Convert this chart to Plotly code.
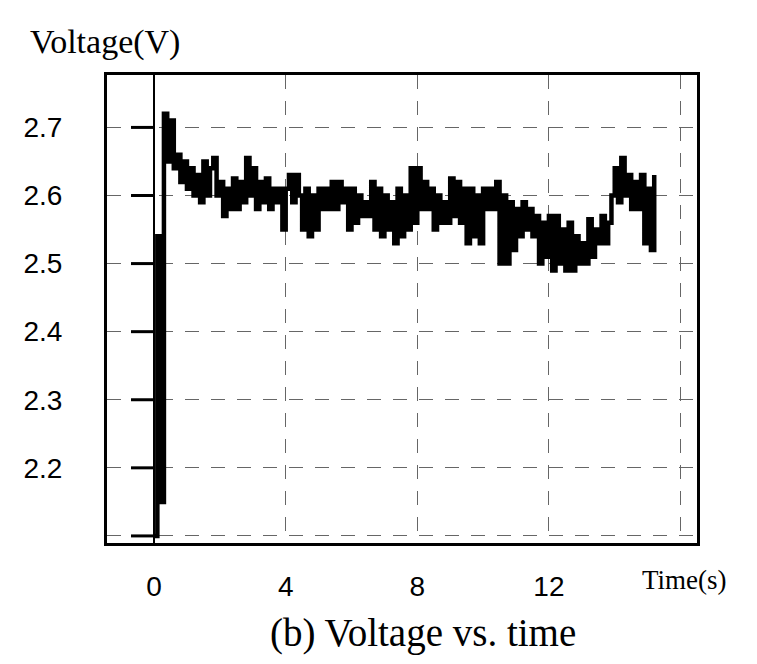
import plotly.graph_objects as go

# Sampled voltage trace (V), sample interval 0.1 s starting at t = 0
voltage = [
    2.10, 2.54, 2.15, 2.72, 2.65, 2.71, 2.64, 2.66, 2.62, 2.65,
    2.61, 2.64, 2.60, 2.63, 2.59, 2.65, 2.60, 2.64, 2.655, 2.60,
    2.62, 2.57, 2.61, 2.58, 2.625, 2.58, 2.62, 2.59, 2.655, 2.60,
    2.64, 2.58, 2.62, 2.59, 2.625, 2.58, 2.61, 2.59, 2.61, 2.55,
    2.61, 2.63, 2.59, 2.63, 2.60, 2.55, 2.61, 2.54, 2.60, 2.55,
    2.61, 2.58, 2.61, 2.58, 2.62, 2.58, 2.62, 2.59, 2.61, 2.55,
    2.61, 2.56, 2.60, 2.57, 2.59, 2.57, 2.62, 2.55, 2.61, 2.54,
    2.60, 2.55, 2.59, 2.53, 2.61, 2.54, 2.60, 2.55, 2.64, 2.56,
    2.64, 2.58, 2.62, 2.58, 2.61, 2.55, 2.60, 2.56, 2.59, 2.56,
    2.625, 2.57, 2.62, 2.56, 2.61, 2.53, 2.61, 2.54, 2.60, 2.53,
    2.61, 2.58, 2.61, 2.58, 2.62, 2.50, 2.60, 2.50, 2.59, 2.52,
    2.58, 2.54, 2.59, 2.55, 2.58, 2.54, 2.57, 2.50, 2.56, 2.51,
    2.57, 2.49, 2.57, 2.50, 2.55, 2.49, 2.56, 2.49, 2.54, 2.50,
    2.53, 2.50, 2.565, 2.51, 2.55, 2.53, 2.57, 2.53, 2.56, 2.60,
    2.64, 2.59, 2.655, 2.60, 2.63, 2.58, 2.62, 2.58, 2.63, 2.53,
    2.61, 2.52, 2.63,
]
sample_dt = 0.1
time_s = [round(i * sample_dt, 1) for i in range(len(voltage))]

x_tick_vals = [0, 4, 8, 12, 16]
x_tick_text = ["0", "4", "8", "12", ""]
y_tick_vals = [2.1, 2.2, 2.3, 2.4, 2.5, 2.6, 2.7]
y_tick_text = ["", "2.2", "2.3", "2.4", "2.5", "2.6", "2.7"]

y_label = "Voltage(V)"
x_label = "Time(s)"
caption = "(b) Voltage vs. time"

fig = go.Figure()
fig.add_trace(go.Scatter(
    x=time_s, y=voltage, mode="lines",
    line=dict(color="black", width=4.5, shape="hv"),
    showlegend=False, hoverinfo="skip",
))

# short tick stubs to the left of the t=0 line
for yv in y_tick_vals:
    fig.add_shape(type="line", xref="x", yref="y", x0=-0.7, x1=0, y0=yv, y1=yv,
                  line=dict(color="black", width=3), layer="above")

grid_style = dict(showgrid=True, gridcolor="#666666", gridwidth=1, griddash="14px,12px")

fig.update_layout(
    width=757, height=664,
    margin=dict(l=107, r=60, t=75, b=121),
    paper_bgcolor="white", plot_bgcolor="white",
    xaxis=dict(
        range=[-1.43, 16.5], tickvals=x_tick_vals, ticktext=x_tick_text,
        showline=True, mirror=True, linecolor="black", linewidth=3,
        zeroline=True, zerolinecolor="black", zerolinewidth=2,
        ticks="", ticklabelstandoff=16,
        tickfont=dict(family="Liberation Sans", size=28, color="black"),
        **grid_style,
    ),
    yaxis=dict(
        range=[2.0896, 2.777], tickvals=y_tick_vals, ticktext=y_tick_text,
        showline=True, mirror=True, linecolor="black", linewidth=3,
        zeroline=False, ticks="", ticklabelstandoff=36,
        tickfont=dict(family="Liberation Sans", size=28, color="black"),
        **grid_style,
    ),
    annotations=[
        dict(text=y_label, xref="paper", yref="paper", x=-0.134, y=1.0705,
             xanchor="left", yanchor="middle", showarrow=False,
             font=dict(family="Liberation Serif", size=34, color="black")),
        dict(text=x_label, xref="paper", yref="paper", x=0.903, y=-0.079,
             xanchor="left", yanchor="middle", showarrow=False,
             font=dict(family="Liberation Serif", size=27, color="black")),
        dict(text=caption, xref="paper", yref="paper", x=0.5356, y=-0.192,
             xanchor="center", yanchor="middle", showarrow=False,
             font=dict(family="Liberation Serif", size=39, color="black")),
    ],
)

fig.write_html("out.html")
